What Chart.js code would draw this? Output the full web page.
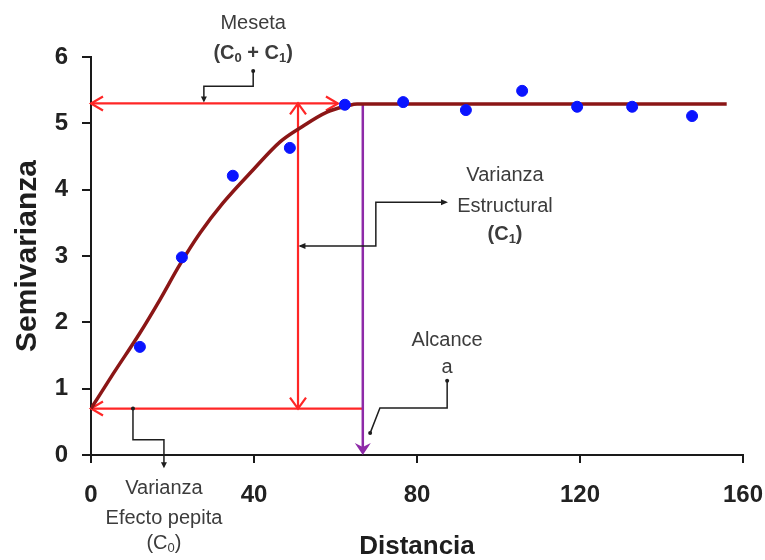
<!DOCTYPE html>
<html>
<head>
<meta charset="utf-8">
<script src="https://cdn.jsdelivr.net/npm/chart.js@4.4.1/dist/chart.umd.min.js"></script>
<style>
  body { margin: 0; background: #fff; }
  #wrap { width: 765px; height: 560px; }
</style>
</head>
<body>
<div id="wrap"><canvas id="variograma" width="765" height="560"></canvas></div>
<script>
// semivariograma experimental (puntos)
const distObs = [12.0, 22.3, 34.8, 48.8, 62.3, 76.6, 92.0, 105.8, 119.3, 132.8, 147.5];
const semiObs = [1.63, 2.98, 4.21, 4.63, 5.28, 5.32, 5.20, 5.49, 5.25, 5.25, 5.11];

// modelo ajustado (curva)
const distModelo = [0, 5.5, 12, 16.9, 21.8, 26.8, 32.4, 39.8, 46.4, 51.3, 57.9, 62.8, 65.3, 156];
const semiModelo = [0.70, 1.23, 1.84, 2.34, 2.87, 3.35, 3.80, 4.30, 4.72, 4.93, 5.17, 5.26, 5.29, 5.29];

const ticksX = [0, 40, 80, 120, 160];
const ticksY = [0, 1, 2, 3, 4, 5, 6];

// parámetros del modelo
const pepita = 0.7;    // C0
const meseta = 5.3;    // C0 + C1
const alcance = 66.7;  // a

const FUENTE = '"Liberation Sans", Arial, sans-serif';

function linea(ctx, x1, y1, x2, y2) {
    ctx.beginPath();
    ctx.moveTo(x1, y1);
    ctx.lineTo(x2, y2);
    ctx.stroke();
}

// punta abierta en forma de V
function puntaAbierta(ctx, x, y, ang, largo, ancho) {
    ctx.beginPath();
    ctx.moveTo(x - largo * Math.cos(ang) - ancho * Math.sin(ang), y - largo * Math.sin(ang) + ancho * Math.cos(ang));
    ctx.lineTo(x, y);
    ctx.lineTo(x - largo * Math.cos(ang) + ancho * Math.sin(ang), y - largo * Math.sin(ang) - ancho * Math.cos(ang));
    ctx.stroke();
}

// punta rellena
function puntaLlena(ctx, x, y, ang, largo, ancho, muesca) {
    const c = Math.cos(ang), s = Math.sin(ang);
    ctx.beginPath();
    ctx.moveTo(x, y);
    ctx.lineTo(x - largo * c - ancho * s, y - largo * s + ancho * c);
    ctx.lineTo(x - (largo - muesca) * c, y - (largo - muesca) * s);
    ctx.lineTo(x - largo * c + ancho * s, y - largo * s - ancho * c);
    ctx.closePath();
    ctx.fill();
}

function punto(ctx, x, y) {
    ctx.beginPath();
    ctx.arc(x, y, 2, 0, Math.PI * 2);
    ctx.fill();
}

// texto con subíndices: partes = [[texto, esSub], ...]
function textoSub(ctx, partes, cx, cy, peso) {
    const fNormal = `${peso} 20px ${FUENTE}`;
    const fSub = `${peso} 13px ${FUENTE}`;
    let total = 0;
    partes.forEach(([t, sub]) => {
        ctx.font = sub ? fSub : fNormal;
        total += ctx.measureText(t).width;
    });
    let xx = cx - total / 2;
    ctx.textAlign = 'left';
    partes.forEach(([t, sub]) => {
        ctx.font = sub ? fSub : fNormal;
        ctx.fillText(t, xx, cy + (sub ? 5 : 0));
        xx += ctx.measureText(t).width;
    });
    ctx.textAlign = 'center';
}

const anotaciones = {
    id: 'anotaciones',
    beforeDatasetsDraw(chart) {
        const {ctx, scales: {x, y}} = chart;
        const X = v => x.getPixelForValue(v);
        const Y = v => y.getPixelForValue(v);
        ctx.save();

        // flechas rojas: meseta, varianza estructural y pepita
        ctx.strokeStyle = '#ff2626';
        ctx.lineWidth = 2.2;
        linea(ctx, X(0), Y(meseta), X(60.6), Y(meseta));
        puntaAbierta(ctx, X(0), Y(meseta), Math.PI, 12, 7);
        puntaAbierta(ctx, X(60.6), Y(meseta), 0, 12, 7);

        const xC1 = 50.8;
        linea(ctx, X(xC1), Y(pepita), X(xC1), Y(meseta));
        puntaAbierta(ctx, X(xC1), Y(meseta), -Math.PI / 2, 11, 8);
        puntaAbierta(ctx, X(xC1), Y(pepita), Math.PI / 2, 11, 8);

        linea(ctx, X(0), Y(pepita), X(alcance), Y(pepita));
        puntaAbierta(ctx, X(0), Y(pepita), Math.PI, 12, 7);

        // alcance
        ctx.strokeStyle = '#8e2aa8';
        ctx.fillStyle = '#8e2aa8';
        ctx.lineWidth = 2.5;
        linea(ctx, X(alcance), Y(meseta), X(alcance), Y(0) - 6);
        puntaLlena(ctx, X(alcance), Y(0), Math.PI / 2, 12, 8, 4);

        ctx.restore();
    },
    afterDraw(chart) {
        const {ctx, scales: {x, y}} = chart;
        const X = v => x.getPixelForValue(v);
        const Y = v => y.getPixelForValue(v);
        ctx.save();

        // líneas guía negras
        ctx.strokeStyle = '#1e1e1e';
        ctx.fillStyle = '#1e1e1e';
        ctx.lineWidth = 1.5;

        // meseta
        ctx.beginPath();
        ctx.moveTo(X(39.8), Y(5.79));
        ctx.lineTo(X(39.8), Y(5.56));
        ctx.lineTo(X(27.7), Y(5.56));
        ctx.lineTo(X(27.7), Y(meseta) - 3);
        ctx.stroke();
        punto(ctx, X(39.8), Y(5.79));
        puntaLlena(ctx, X(27.7), Y(meseta) - 1, Math.PI / 2, 6, 3, 0);

        // varianza estructural
        ctx.beginPath();
        ctx.moveTo(X(87.0), Y(3.81));
        ctx.lineTo(X(69.9), Y(3.81));
        ctx.lineTo(X(69.9), Y(3.15));
        ctx.lineTo(X(51.3), Y(3.15));
        ctx.stroke();
        puntaLlena(ctx, X(87.6), Y(3.81), 0, 7, 3, 0);
        puntaLlena(ctx, X(50.9), Y(3.15), Math.PI, 7, 3, 0);

        // alcance
        ctx.beginPath();
        ctx.moveTo(X(87.4), Y(1.12));
        ctx.lineTo(X(87.4), Y(0.71));
        ctx.lineTo(X(70.9), Y(0.71));
        ctx.lineTo(X(68.5), Y(0.33));
        ctx.stroke();
        punto(ctx, X(87.4), Y(1.12));
        punto(ctx, X(68.5), Y(0.33));

        // efecto pepita
        ctx.beginPath();
        ctx.moveTo(X(10.3), Y(pepita));
        ctx.lineTo(X(10.3), Y(0.23));
        ctx.lineTo(X(17.9), Y(0.23));
        ctx.lineTo(X(17.9), Y(-0.17));
        ctx.stroke();
        punto(ctx, X(10.3), Y(pepita));
        puntaLlena(ctx, X(17.9), Y(-0.2), Math.PI / 2, 6, 3, 0);

        // textos
        ctx.fillStyle = '#3c3c3c';
        ctx.textAlign = 'center';
        ctx.textBaseline = 'middle';
        ctx.font = `20px ${FUENTE}`;
        ctx.fillText('Meseta', X(39.8), Y(6.51));
        textoSub(ctx, [['(C', false], ['0', true], [' + C', false], ['1', true], [')', false]], X(39.8), Y(6.06), 'bold');

        ctx.font = `20px ${FUENTE}`;
        ctx.fillText('Varianza', X(101.6), Y(4.22));
        ctx.fillText('Estructural', X(101.6), Y(3.75));
        textoSub(ctx, [['(C', false], ['1', true], [')', false]], X(101.6), Y(3.32), 'bold');

        ctx.font = `20px ${FUENTE}`;
        ctx.fillText('Alcance', X(87.4), Y(1.72));
        ctx.fillText('a', X(87.4), Y(1.32));

        ctx.fillText('Varianza', X(17.9), Y(-0.50));
        ctx.fillText('Efecto pepita', X(17.9), Y(-0.95));
        textoSub(ctx, [['(C', false], ['0', true], [')', false]], X(17.9), Y(-1.33), '');

        ctx.restore();
    }
};

const ejeBorde = {color: '#1a1a1a', width: 2};
const ejeGrid = {drawOnChartArea: false, color: '#1a1a1a', lineWidth: 2, tickLength: 9};

new Chart(document.getElementById('variograma'), {
    type: 'scatter',
    data: {
        datasets: [{
            label: 'Semivarianza experimental',
            data: distObs.map((d, i) => ({x: d, y: semiObs[i]})),
            backgroundColor: '#0a14ff',
            borderColor: '#0a14ff',
            pointRadius: 5.5,
            pointHoverRadius: 5.5,
            order: 1
        }, {
            label: 'Modelo',
            data: distModelo.map((d, i) => ({x: d, y: semiModelo[i]})),
            showLine: true,
            borderColor: '#8b1616',
            borderWidth: 3.5,
            pointRadius: 0,
            cubicInterpolationMode: 'monotone',
            order: 2
        }]
    },
    options: {
        responsive: false,
        animation: false,
        events: [],
        layout: {padding: {top: 57, right: 22, left: 0, bottom: 0}},
        plugins: {legend: {display: false}, tooltip: {enabled: false}},
        scales: {
            x: {
                type: 'linear',
                min: 0,
                max: 160,
                afterFit: s => { s.height = 105; s.paddingLeft = 0; s.paddingRight = 0; },
                afterBuildTicks: s => { s.ticks = ticksX.map(v => ({value: v})); },
                border: ejeBorde,
                grid: Object.assign({}, ejeGrid, {tickLength: 8}),
                ticks: {
                    font: {family: FUENTE, size: 24, weight: 'bold'},
                    color: '#222',
                    padding: 18,
                    maxRotation: 0,
                    autoSkip: false
                },
                title: {
                    display: true,
                    text: 'Distancia',
                    color: '#1e1e1e',
                    font: {family: FUENTE, size: 26, weight: 'bold', lineHeight: 1},
                    padding: {top: 0, bottom: 0}
                }
            },
            y: {
                type: 'linear',
                min: 0,
                max: 6,
                afterFit: s => { s.width = 91; s.paddingTop = 0; s.paddingBottom = 0; },
                afterBuildTicks: s => { s.ticks = ticksY.map(v => ({value: v})); },
                border: ejeBorde,
                grid: ejeGrid,
                ticks: {
                    font: {family: FUENTE, size: 24, weight: 'bold'},
                    color: '#222',
                    padding: 14
                },
                title: {
                    display: true,
                    text: 'Semivarianza',
                    color: '#1e1e1e',
                    font: {family: FUENTE, size: 30, weight: 'bold', lineHeight: 1},
                    padding: {top: 13, bottom: 0}
                }
            }
        }
    },
    plugins: [anotaciones]
});
</script>
</body>
</html>
